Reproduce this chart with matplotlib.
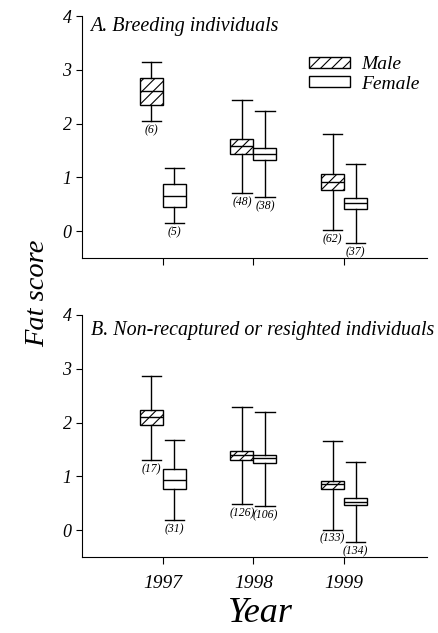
import matplotlib.pyplot as plt
from matplotlib.patches import Patch

plt.rcParams['font.family'] = ['Liberation Serif', 'DejaVu Serif']
plt.rcParams['font.style'] = 'italic'
plt.rcParams['hatch.linewidth'] = 0.8

years = [1997, 1998, 1999]
panel_titles = ['A. Breeding individuals',
                'B. Non-recaptured or resighted individuals']

# per panel, per year: [whisker low, q1, median, q3, whisker high]
male_stats = [
    [[2.05, 2.35, 2.61, 2.84, 3.15],
     [0.71, 1.43, 1.58, 1.72, 2.43],
     [0.02, 0.77, 0.91, 1.06, 1.81]],
    [[1.30, 1.95, 2.10, 2.24, 2.87],
     [0.49, 1.31, 1.40, 1.47, 2.28],
     [0.01, 0.77, 0.85, 0.91, 1.66]],
]
female_stats = [
    [[0.15, 0.45, 0.66, 0.88, 1.17],
     [0.63, 1.32, 1.43, 1.55, 2.24],
     [-0.23, 0.42, 0.52, 0.61, 1.25]],
    [[0.19, 0.77, 0.94, 1.13, 1.68],
     [0.45, 1.25, 1.34, 1.40, 2.20],
     [-0.22, 0.46, 0.53, 0.59, 1.27]],
]
male_n = [[6, 48, 62], [17, 126, 133]]
female_n = [[5, 38, 37], [31, 106, 134]]

fig = plt.figure(figsize=(4.38, 6.33), dpi=100)
ax_a = fig.add_axes([0.187, 0.5924, 0.788, 0.3823])
ax_b = fig.add_axes([0.187, 0.1201, 0.788, 0.3823])

width = 0.254
offset = 0.127


def make_stats(rows):
    return [dict(whislo=r[0], q1=r[1], med=r[2], q3=r[3], whishi=r[4])
            for r in rows]


def draw_boxes(ax, rows, pos, hatch, counts):
    bp = ax.bxp(make_stats(rows), positions=pos, widths=width,
                showfliers=False, patch_artist=True,
                capwidths=width * 0.85,
                boxprops=dict(facecolor='white', edgecolor='black',
                              linewidth=1.0, hatch=hatch),
                medianprops=dict(color='black', linewidth=1.0),
                whiskerprops=dict(color='black', linewidth=1.0),
                capprops=dict(color='black', linewidth=1.0),
                manage_ticks=False)
    for p, r, n in zip(pos, rows, counts):
        ax.text(p, r[0] - 0.17, '(%d)' % n, ha='center', va='center',
                fontsize=8.5)
    return bp


title_y = [0.995, 0.975]
for i, ax in enumerate([ax_a, ax_b]):
    draw_boxes(ax, male_stats[i], [y - offset for y in years], '///',
               male_n[i])
    draw_boxes(ax, female_stats[i], [y + offset for y in years], None,
               female_n[i])

    ax.set_xlim(1996.105, 1999.917)
    ax.set_ylim(-0.5, 4)
    ax.set_yticks([0, 1, 2, 3, 4])
    ax.set_xticks(years)
    ax.spines['top'].set_visible(False)
    ax.spines['right'].set_visible(False)
    ax.tick_params(axis='y', labelsize=13, length=4, width=0.8)
    ax.tick_params(axis='x', labelsize=14, length=5, width=0.8, pad=8)
    ax.text(0.025, title_y[i], panel_titles[i], transform=ax.transAxes,
            fontsize=14.4, va='top', ha='left')

ax_a.set_xticklabels([])

# legend
handles = [Patch(facecolor='white', edgecolor='black', hatch='///',
                 label='Male'),
           Patch(facecolor='white', edgecolor='black', label='Female')]
ax_a.legend(handles=handles, loc='upper left', bbox_to_anchor=(0.635, 0.865),
            frameon=False, fontsize=14, handlelength=2.1, handleheight=0.5,
            handletextpad=0.6, labelspacing=0.12, borderaxespad=0)

fig.text(0.085, 0.537, 'Fat score', rotation=90, ha='center', va='center',
         fontsize=20.5)
fig.text(0.594, 0.031, 'Year', ha='center', va='center', fontsize=26)

fig.savefig('out.png', dpi=100)
